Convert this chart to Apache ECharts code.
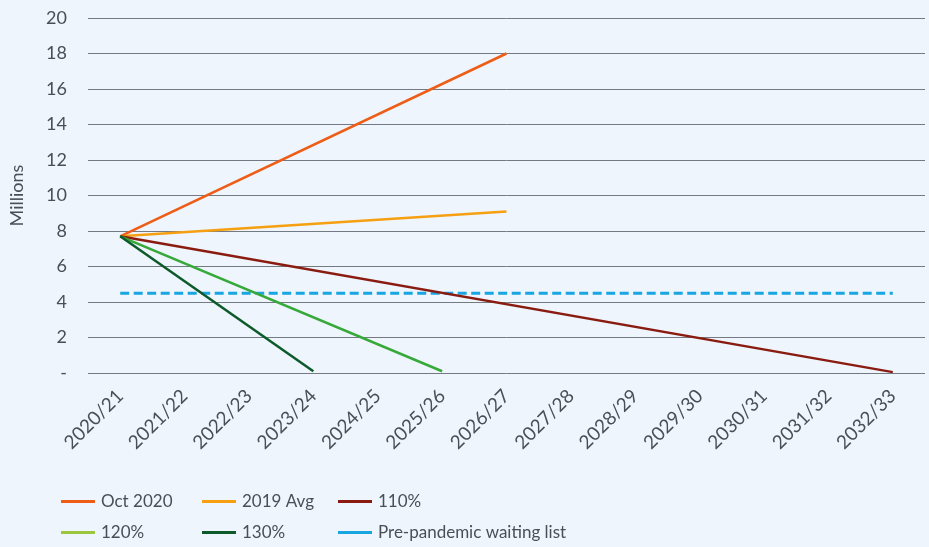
<!DOCTYPE html>
<html>
<head>
<meta charset="utf-8">
<script src="https://cdn.jsdelivr.net/npm/echarts@6/dist/echarts.min.js"></script>
<style>
  html, body { margin: 0; padding: 0; background: #eef5fc; }
  #chart { width: 929px; height: 547px; }
</style>
</head>
<body>
<div id="chart"></div>
<script>
  // years on the x axis
  var years = ['2020/21', '2021/22', '2022/23', '2023/24', '2024/25', '2025/26', '2026/27',
    '2027/28', '2028/29', '2029/30', '2030/31', '2031/32', '2032/33']

  // waiting list, millions (only start and end points are read, lines are straight)
  var oct2020 = [7.7, null, null, null, null, null, 18.0, null, null, null, null, null, null]
  var avg2019 = [7.7, null, null, null, null, null, 9.1, null, null, null, null, null, null]
  var pct110 = [7.7, null, null, null, null, null, null, null, null, null, null, null, 0.05]
  var pct120 = [7.7, null, null, null, null, 0.1, null, null, null, null, null, null, null]
  var pct130 = [7.7, null, null, 0.1, null, null, null, null, null, null, null, null, null]
  var prePandemic = [4.5, null, null, null, null, null, null, null, null, null, null, null, 4.5]

  var yTicks = [0, 2, 4, 6, 8, 10, 12, 14, 16, 18, 20]

  var font = 'Lato'
  var textColor = '#4a4f57'

  function line (name, data, color, dashed) {
    return {
      name: name,
      type: 'line',
      data: data,
      connectNulls: true,
      symbol: 'none',
      z: dashed ? 1 : 3,
      itemStyle: { color: color },
      lineStyle: { width: dashed ? 3 : 2.5, color: color, type: dashed ? [9, 4.5] : 'solid' }
    }
  }

  function legendCol (left, items) {
    return {
      orient: 'vertical',
      left: left,
      top: 488,
      itemWidth: 34,
      itemHeight: 14,
      itemGap: 14,
      icon: 'path://M0,0 L34,0 L34,3 L0,3 Z',
      textStyle: { fontFamily: font, fontSize: 17, color: textColor, padding: [0, 0, 0, 1] },
      data: items
    }
  }

  var chart = echarts.init(document.getElementById('chart'))
  chart.setOption({
    backgroundColor: '#eef5fc',
    animation: false,
    grid: { left: 88, right: 4, top: 18, bottom: 174 },
    legend: [
      legendCol(56, ['Oct 2020', { name: '120%', itemStyle: { color: '#9cc63b' } }]),
      legendCol(197, ['2019 Avg', '130%']),
      legendCol(333, ['110%', 'Pre-pandemic waiting list'])
    ],
    xAxis: {
      type: 'category',
      data: years,
      boundaryGap: true,
      axisLine: { show: false },
      axisTick: { show: false },
      axisLabel: {
        rotate: 45,
        interval: 0,
        margin: 20,
        fontFamily: font,
        fontSize: 19,
        color: textColor
      }
    },
    yAxis: {
      type: 'value',
      min: yTicks[0],
      max: yTicks[yTicks.length - 1],
      interval: 2,
      name: 'Millions',
      nameLocation: 'middle',
      nameGap: 62,
      nameRotate: 90,
      nameTextStyle: { fontFamily: font, fontSize: 18, color: textColor },
      axisLine: { show: false },
      axisTick: { show: false },
      axisLabel: {
        margin: 21,
        fontFamily: font,
        fontSize: 18,
        color: textColor,
        formatter: function (v) { return v === 0 ? '-' : v }
      },
      splitLine: { lineStyle: { color: '#747a83', width: 1 } }
    },
    series: [
      line('Oct 2020', oct2020, '#ee5d16'),
      line('2019 Avg', avg2019, '#f6a011'),
      line('110%', pct110, '#8a1b10'),
      line('120%', pct120, '#36a93a'),
      line('130%', pct130, '#0c5a2a'),
      line('Pre-pandemic waiting list', prePandemic, '#17a6e1', true)
    ]
  })
</script>
</body>
</html>
